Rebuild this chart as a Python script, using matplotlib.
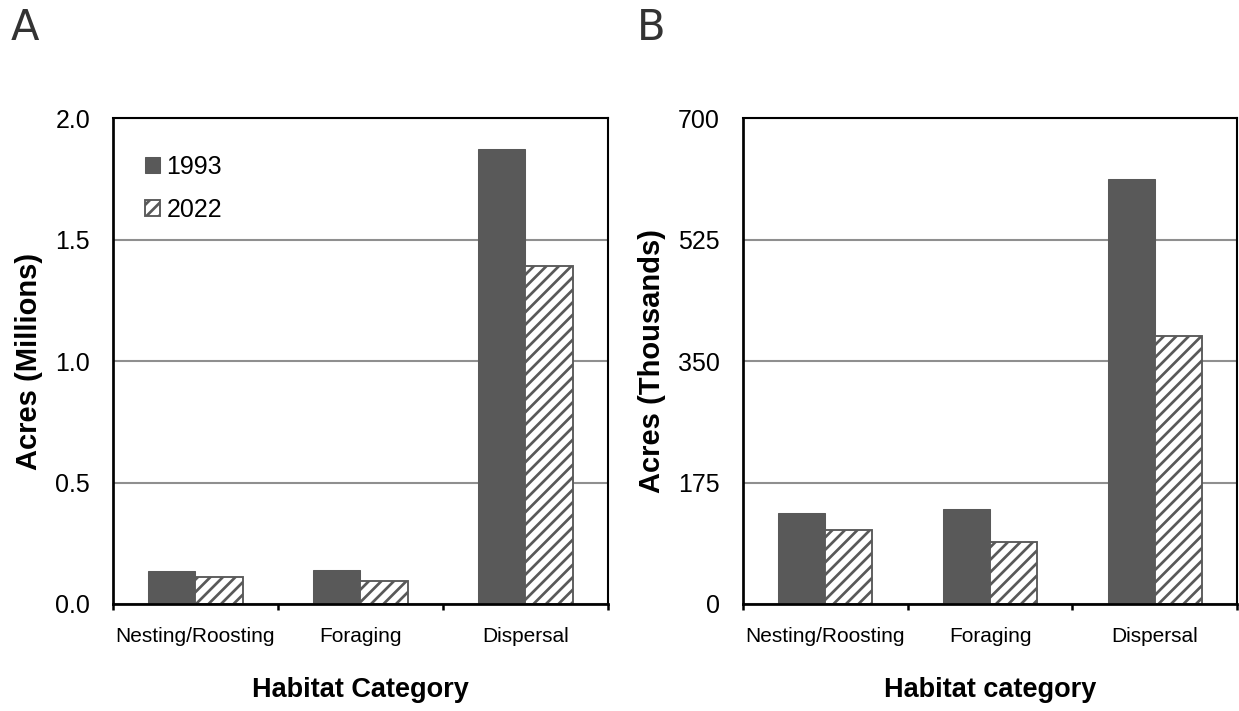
import matplotlib
matplotlib.use('Agg')
import numpy as np
import matplotlib.pyplot as plt

plt.rcParams['font.family'] = ['Liberation Sans', 'DejaVu Sans']
plt.rcParams['hatch.linewidth'] = 1.3

# data
categories = ['Nesting/Roosting', 'Foraging', 'Dispersal']
years = ['1993', '2022']

# panel A, millions of acres
a_1993 = [0.136, 0.140, 1.872]
a_2022 = [0.112, 0.095, 1.392]
a_ticks = [0.0, 0.5, 1.0, 1.5, 2.0]
a_ticklabels = ['0.0', '0.5', '1.0', '1.5', '2.0']

# panel B, thousands of acres
b_1993 = [131.7, 136.6, 612.0]
b_2022 = [106.8, 89.6, 385.8]
b_ticks = [0, 175, 350, 525, 700]
b_ticklabels = ['0', '175', '350', '525', '700']

dark = '#595959'
grid_gray = '#8f8f8f'

fig = plt.figure(figsize=(1239 / 150, 711 / 150), dpi=150)
axA = fig.add_axes([0.0912, 0.1505, 0.3995, 0.6835])
axB = fig.add_axes([0.5997, 0.1505, 0.3987, 0.6835])

x = np.arange(len(categories))
w = 0.2857


def draw_panel(ax, v1, v2, ticks, ticklabels, ylabel, xlabel):
    ax.bar(x - w / 2, v1, w, color=dark, edgecolor=dark, linewidth=0.5,
           label=years[0], zorder=2)
    ax.bar(x + w / 2, v2, w, color='white', edgecolor=dark, linewidth=0.9,
           hatch='////', label=years[1], zorder=2)
    ax.set_xlim(-0.5, 2.5)
    ax.set_ylim(ticks[0], ticks[-1])
    ax.set_yticks(ticks)
    ax.set_yticklabels(ticklabels)
    ax.yaxis.grid(True, color=grid_gray, linewidth=1.0)
    ax.set_axisbelow(True)
    ax.tick_params(axis='y', length=0, pad=11, labelsize=12)
    # category labels at the centres, tick marks at the boundaries
    ax.set_xticks(x)
    ax.set_xticklabels(categories)
    ax.tick_params(axis='x', which='major', length=0, pad=11, labelsize=10)
    ax.set_xticks([-0.5, 0.5, 1.5, 2.5], minor=True)
    ax.tick_params(axis='x', which='minor', length=3, width=1.2,
                   direction='out', color='black')
    for s in ax.spines.values():
        s.set_color('black')
        s.set_linewidth(1.0)
    ax.spines['left'].set_linewidth(1.3)
    ax.spines['bottom'].set_linewidth(1.3)
    ax.set_ylabel(ylabel, fontsize=14, fontweight='bold', labelpad=6)
    ax.set_xlabel(xlabel, fontsize=13, fontweight='bold', labelpad=15)


draw_panel(axA, a_1993, a_2022, a_ticks, a_ticklabels,
           'Acres (Millions)', 'Habitat Category')
draw_panel(axB, b_1993, b_2022, b_ticks, b_ticklabels,
           'Acres (Thousands)', 'Habitat category')

axA.legend(loc='upper left', bbox_to_anchor=(0.045, 0.945), frameon=False,
           fontsize=12, handlelength=0.6, handleheight=0.6,
           handletextpad=0.25, labelspacing=0.75, borderaxespad=0)

# panel letters
fig.text(0.009, 0.99, 'A', fontsize=20, family='DejaVu Sans',
         color='#333333', va='top', ha='left')
fig.text(0.514, 0.99, 'B', fontsize=20, family='DejaVu Sans',
         color='#333333', va='top', ha='left')

fig.savefig('out.png', dpi=150)
